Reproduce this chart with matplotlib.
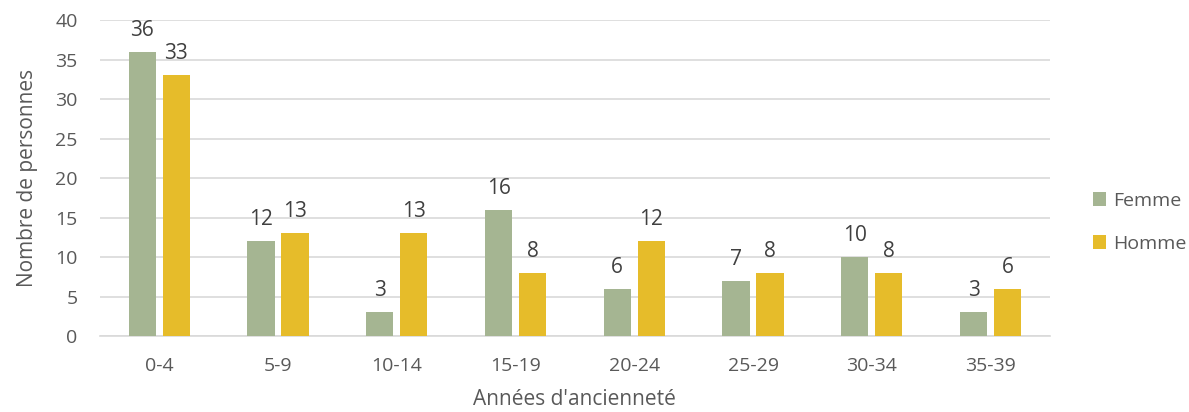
import numpy as np
import matplotlib.pyplot as plt

categories = ["0-4", "5-9", "10-14", "15-19", "20-24", "25-29", "30-34", "35-39"]
femme = [36, 12, 3, 16, 6, 7, 10, 3]
homme = [33, 13, 13, 8, 12, 8, 8, 6]

plt.rcParams['font.family'] = ['Open Sans', 'DejaVu Sans']
text_color = "#595959"

fig = plt.figure(figsize=(11.89, 4.12), dpi=100)
ax = fig.add_axes([0.084, 0.184, 0.799, 0.767])

x = np.arange(len(categories))
w = 0.228
off = 0.143
b1 = ax.bar(x - off, femme, w, color="#A5B592", label="Femme", zorder=3)
b2 = ax.bar(x + off, homme, w, color="#E6BC2A", label="Homme", zorder=3)

for bars in (b1, b2):
    ax.bar_label(bars, padding=8, fontsize=15, color="#404040")

ax.set_xlim(-0.5, len(categories) - 0.5)
ax.set_ylim(0, 40)
ax.set_yticks(range(0, 41, 5))
ax.set_xticks(x)
ax.set_xticklabels(categories)
ax.yaxis.grid(True, color="#D9D9D9", linewidth=1.2, zorder=0)
ax.tick_params(axis="both", length=0, labelsize=14, colors=text_color)
ax.tick_params(axis="x", pad=15)
ax.tick_params(axis="y", pad=16)
for s in ["top", "right", "left"]:
    ax.spines[s].set_visible(False)
ax.spines["bottom"].set_color("#D9D9D9")
ax.spines["bottom"].set_linewidth(1.2)

ax.set_xlabel("Années d'ancienneté", fontsize=15, color=text_color, labelpad=10)
ax.set_ylabel("Nombre de personnes", fontsize=15, color=text_color, labelpad=12)

leg = ax.legend(loc="center left", bbox_to_anchor=(1.0, 0.36), frameon=False,
                fontsize=14, labelspacing=1.3, handlelength=0.7, handleheight=0.7,
                handletextpad=0.35, borderaxespad=1.8)
for t in leg.get_texts():
    t.set_color(text_color)

fig.savefig("out.png", dpi=100)
